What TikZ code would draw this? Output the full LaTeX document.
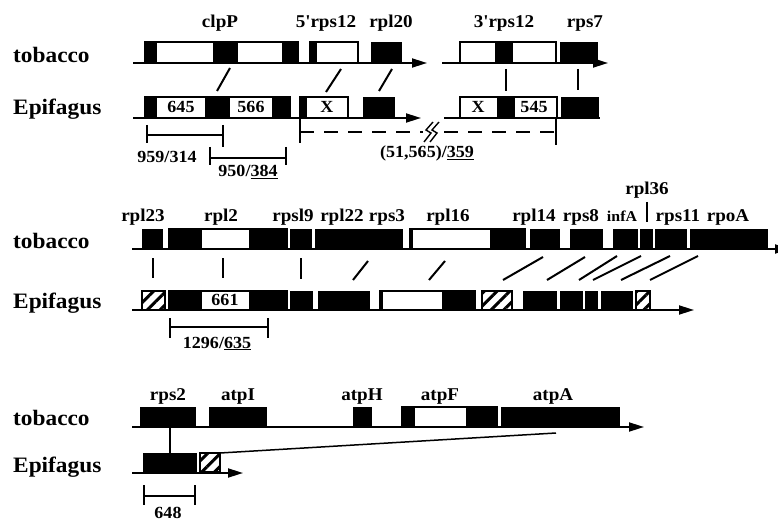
\documentclass[tikz,border=0pt]{standalone}
\usepackage{fontspec}
\setmainfont{Liberation Serif}[FakeStretch=1.06]
\usetikzlibrary{arrows.meta,patterns.meta}
\newcommand\gbk[4]{\fill[black] (#1,#3) rectangle (#2,#4);}
\newcommand\gwh[4]{\filldraw[fill=white,draw=black,line width=1.3pt] (#1,#3) rectangle (#2,#4);}
\newcommand\ghb[4]{\filldraw[hb] (#1,#3) rectangle (#2,#4);}
\begin{document}
\begin{tikzpicture}[x=1pt,y=-1pt,
  gl/.style={font=\fontsize{18}{18}\selectfont\bfseries, anchor=base, inner sep=0pt},
  nl/.style={font=\fontsize{17}{17}\selectfont\bfseries, anchor=base, inner sep=0pt},
  ml/.style={font=\fontsize{22}{22}\selectfont\bfseries, anchor=base west, inner sep=0pt},
  baseln/.style={line width=1.8pt},
  arr/.style={baseln,-{Triangle[length=15pt,width=9pt]}},
  conn/.style={line width=2pt},
  brk/.style={line width=1.6pt},
  hb/.style={draw=black,line width=1.2pt,fill=white,postaction={pattern={Lines[angle=45,distance=9pt,line width=3pt]}}}
]
\clip (0,0) rectangle (778,521);
\fill[white] (0,0) rectangle (778,521);

% ---------------- Row 1 ----------------
\node[ml] (t1) at (13,63) {tobacco};
\node[ml] (e1) at (13,115) {Epifagus};
\node[gl] (clpP) at (220,28) {clpP};
\node[gl] (rps12a) at (326,28) {5\textquotesingle rps12};
\node[gl] (rpl20) at (391,28) {rpl20};
\node[gl] (rps12b) at (504,28) {3\textquotesingle rps12};
\node[gl] (rps7) at (585,28) {rps7};

% tobacco
\draw[arr] (133,63) -- (427,63);
\draw[arr] (442,63) -- (608,63);
\gwh{145}{298}{42}{63}
\gbk{145}{157}{42}{63}\gbk{213}{238}{42}{63}\gbk{282}{298}{42}{63}
\gwh{310}{358}{42}{63}\gbk{310}{317}{42}{63}
\gbk{371}{402}{42}{63}
\gwh{460}{556}{42}{63}\gbk{495}{513}{42}{63}
\gbk{560}{598}{42}{63}
% Epifagus
\draw[arr] (133,118) -- (421,118);
\draw[baseln] (444,118) -- (600,118);
\gwh{145}{290}{97}{118}
\gbk{145}{157}{97}{118}\gbk{205}{230}{97}{118}\gbk{272}{290}{97}{118}
\node[nl] (n645) at (181,113) {645};
\node[nl] (n566) at (251,113) {566};
\gwh{300}{348}{97}{118}\gbk{300}{307}{97}{118}
\node[nl] (x1) at (327,113) {X};
\gbk{363}{395}{97}{118}
\gwh{460}{557}{97}{118}\gbk{497}{515}{97}{118}
\node[nl] (x2) at (478,113) {X};
\node[nl] (n545) at (534,113) {545};
\gbk{561}{599}{97}{118}
% connectors
\draw[conn] (230,68) -- (217,91);
\draw[conn] (341,69) -- (326,92);
\draw[conn] (392,69) -- (379,91);
\draw[conn] (506,69) -- (506,91);
\draw[conn] (578,69) -- (578,90);
% brackets
\draw[brk] (147,125) -- (147,143);
\draw[brk] (223,125) -- (223,147);
\draw[brk] (147,135) -- (223,135);
\node[nl] (b1) at (167,163) {959/314};
\draw[brk] (210,147) -- (210,165);
\draw[brk] (286,147) -- (286,165);
\draw[brk] (210,158) -- (286,158);
\node[nl] (b2) at (248,177) {950/\underline{384}};
\draw[brk] (300,118) -- (300,143);
\draw[brk] (556,118) -- (556,145);
\draw[brk,dash pattern=on 14pt off 10pt] (300,132) -- (556,132);
\fill[white] (423,124) rectangle (438,140);
\draw[line width=1.4pt] (433,122) -- (426,130) -- (431,133) -- (424,142);
\draw[line width=1.4pt] (439,122) -- (432,130) -- (437,133) -- (430,142);
\node[nl] (b3) at (427,158) {(51,565)/\underline{359}};

% ---------------- Row 2 ----------------
\node[ml] (t2) at (13,248) {tobacco};
\node[ml] (e2) at (13,308) {Epifagus};
\node[gl] (rpl23) at (143,222) {rpl23};
\node[gl] (rpl2) at (221,222) {rpl2};
\node[gl] (rps19) at (293,222) {rpsl9};
\node[gl] (rpl22) at (342,222) {rpl22};
\node[gl] (rps3) at (387,222) {rps3};
\node[gl] (rpl16) at (448,222) {rpl16};
\node[gl] (rpl14) at (534,222) {rpl14};
\node[gl] (rps8) at (581,222) {rps8};
\node[gl,font=\fontsize{15}{15}\selectfont\bfseries] (infA) at (622,222) {infA};
\node[gl] (rpl36) at (647,195) {rpl36};
\node[gl] (rps11) at (678,222) {rps11};
\node[gl] (rpoA) at (728,222) {rpoA};
\draw[conn] (647,202) -- (647,222);
% tobacco
\draw[arr] (132,249) -- (790,249);
\gbk{142}{163}{229}{249}
\gwh{169}{287}{229}{249}\gbk{169}{202}{229}{249}\gbk{249}{287}{229}{249}
\gbk{290}{312}{229}{249}
\gbk{315}{403}{229}{249}
\gwh{410}{525}{229}{249}\gbk{410}{413}{229}{249}\gbk{490}{525}{229}{249}
\gbk{530}{560}{229}{249}
\gbk{570}{603}{229}{249}
\gbk{613}{638}{229}{249}\gbk{640}{653}{229}{249}\gbk{655}{687}{229}{249}\gbk{690}{768}{229}{249}
% Epifagus
\draw[arr] (132,310) -- (694,310);
\ghb{142}{165}{291}{310}
\gwh{169}{287}{291}{310}\gbk{169}{202}{291}{310}\gbk{249}{287}{291}{310}
\node[nl] (n661) at (225,305) {661};
\gbk{290}{313}{291}{310}
\gbk{318}{370}{291}{310}
\gwh{380}{475}{291}{310}\gbk{380}{383}{291}{310}\gbk{442}{475}{291}{310}
\ghb{482}{512}{291}{310}
\gbk{523}{557}{291}{310}
\gbk{560}{583}{291}{310}\gbk{585}{598}{291}{310}\gbk{601}{633}{291}{310}
\ghb{636}{650}{291}{310}
% connectors
\draw[conn] (153,258) -- (153,278);
\draw[conn] (223,258) -- (223,278);
\draw[conn] (301,258) -- (301,279);
\draw[conn] (368,261) -- (353,280);
\draw[conn] (445,261) -- (429,280);
\draw[conn] (543,257) -- (503,280);
\draw[conn] (585,257) -- (547,280);
\draw[conn] (617,256) -- (579,280);
\draw[conn] (641,256) -- (593,280);
\draw[conn] (670,256) -- (621,280);
\draw[conn] (698,256) -- (650,280);
% bracket
\draw[brk] (170,318) -- (170,338);
\draw[brk] (268,318) -- (268,338);
\draw[brk] (170,327) -- (268,327);
\node[nl] (b4) at (217,348) {1296/\underline{635}};

% ---------------- Row 3 ----------------
\node[ml] (t3) at (13,425) {tobacco};
\node[ml] (e3) at (13,472) {Epifagus};
\node[gl] (rps2) at (168,400) {rps2};
\node[gl] (atpI) at (238,400) {atpI};
\node[gl] (atpH) at (362,400) {atpH};
\node[gl] (atpF) at (440,400) {atpF};
\node[gl] (atpA) at (553,400) {atpA};
\draw[arr] (132,427) -- (644,427);
\gbk{140}{196}{407}{427}
\gbk{209}{267}{407}{427}
\gbk{353}{372}{407}{427}
\gwh{402}{497}{407}{427}\gbk{402}{415}{407}{427}\gbk{466}{497}{407}{427}
\gbk{501}{620}{407}{427}
\draw[arr] (132,473) -- (243,473);
\gbk{143}{197}{453}{472}
\ghb{200}{220}{453}{472}
\draw[conn] (170,427) -- (170,453);
\draw[line width=1.5pt] (220,453) -- (556,433);
\draw[brk] (144,485) -- (144,505);
\draw[brk] (195,485) -- (195,505);
\draw[brk] (144,496) -- (195,496);
\node[nl] (b5) at (168,518) {648};
\end{tikzpicture}
\end{document}
